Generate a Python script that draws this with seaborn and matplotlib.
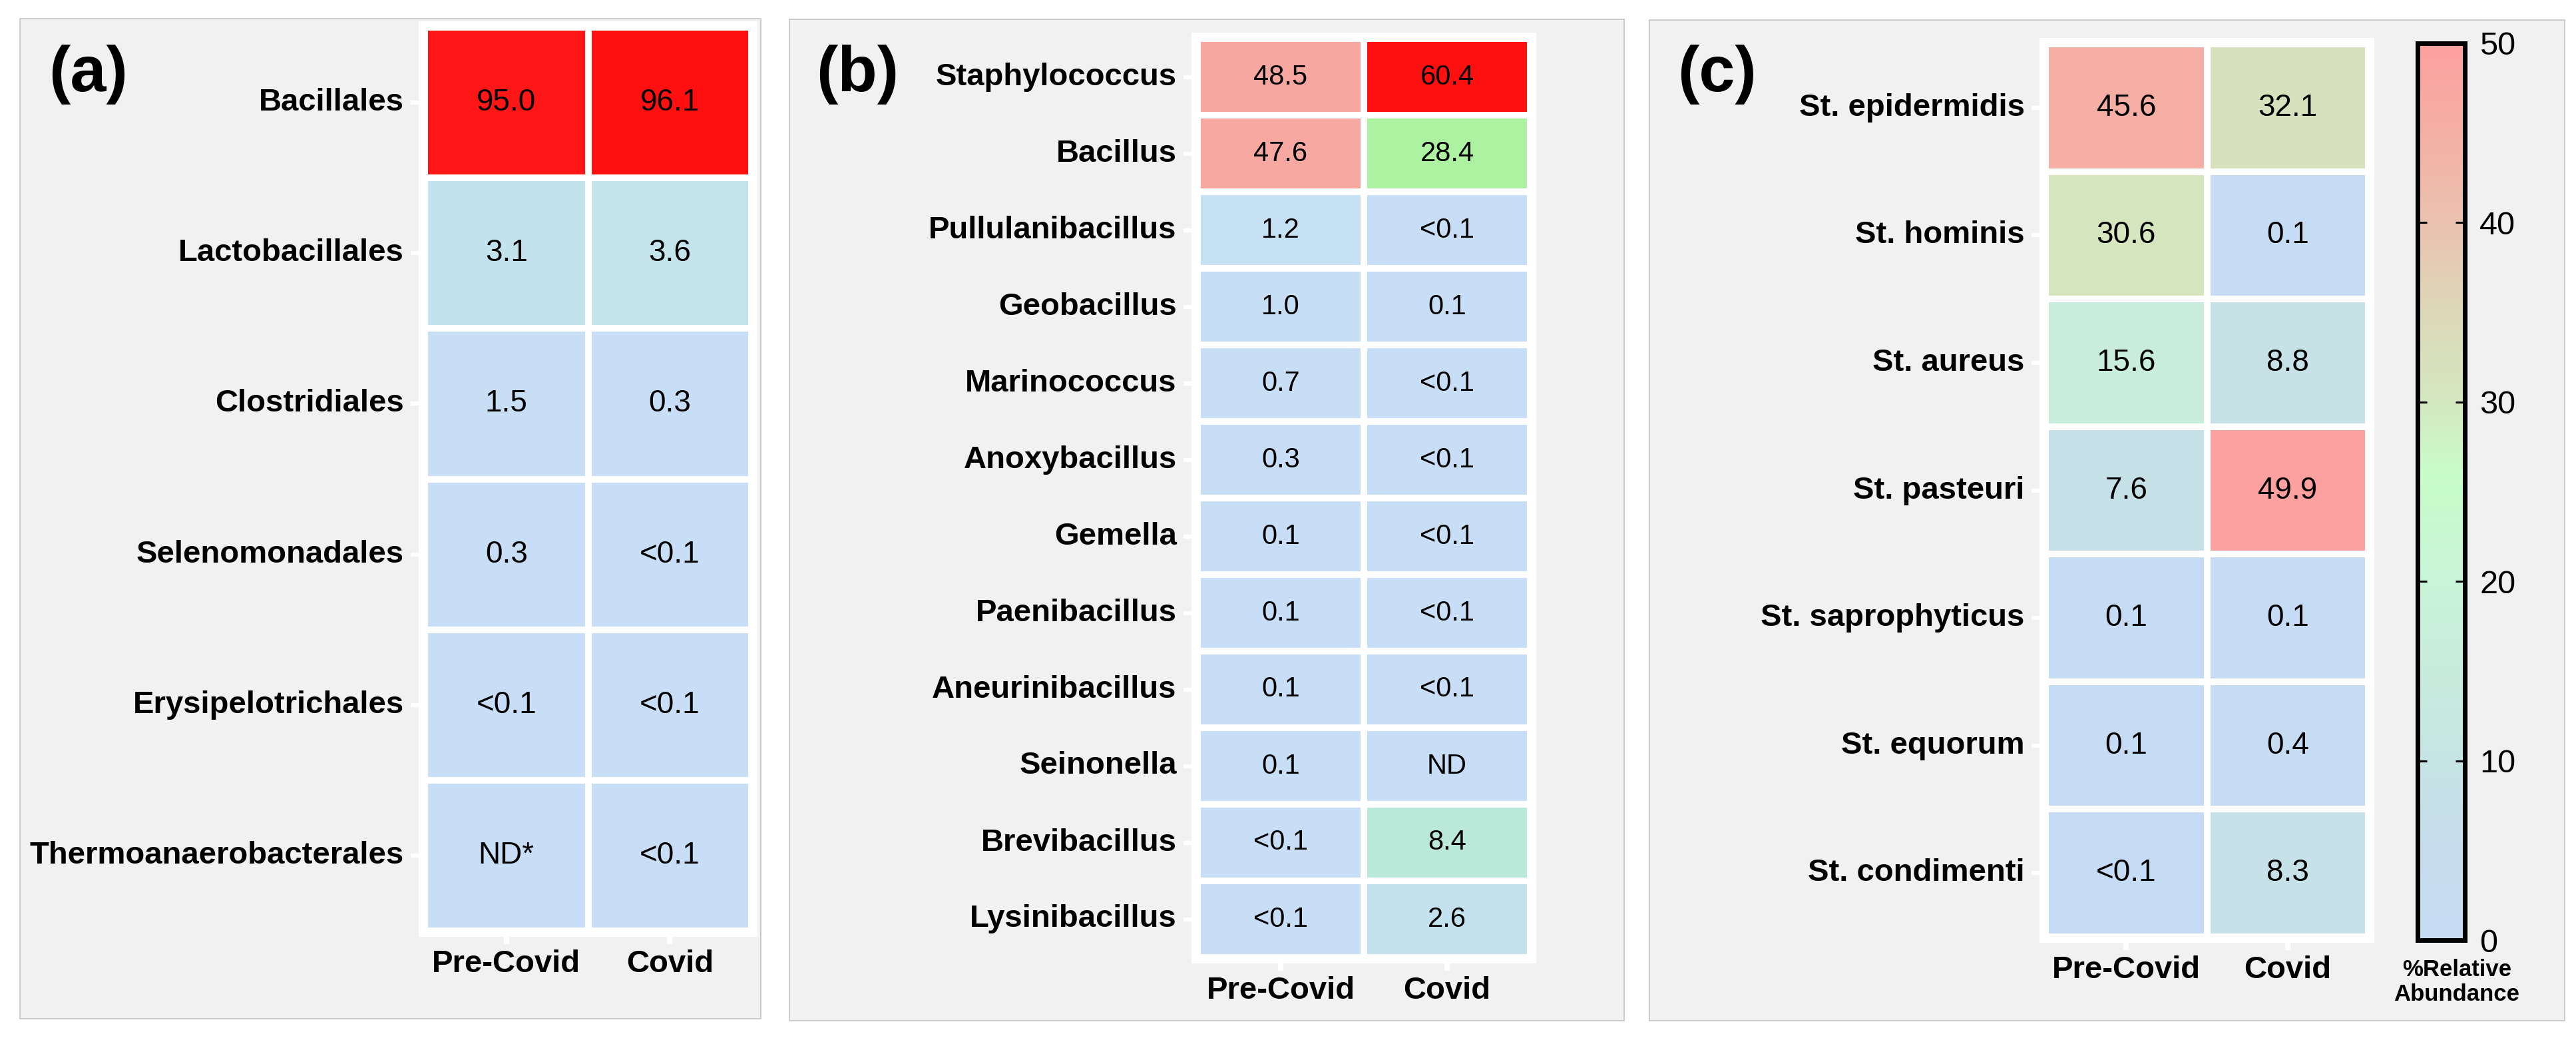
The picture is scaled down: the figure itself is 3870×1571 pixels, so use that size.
import numpy as np
import pandas as pd
import seaborn as sns
import matplotlib.pyplot as plt
from matplotlib.colors import LinearSegmentedColormap
from matplotlib.patches import Rectangle

# ---- data ----
periods = ["Pre-Covid", "Covid"]

a_orders = ["Bacillales", "Lactobacillales", "Clostridiales", "Selenomonadales",
            "Erysipelotrichales", "Thermoanaerobacterales"]
a_pre = [95.0, 3.1, 1.5, 0.3, 0.05, 0.0]
a_cov = [96.1, 3.6, 0.3, 0.05, 0.05, 0.05]
a_pre_txt = ["95.0", "3.1", "1.5", "0.3", "<0.1", "ND*"]
a_cov_txt = ["96.1", "3.6", "0.3", "<0.1", "<0.1", "<0.1"]

b_genera = ["Staphylococcus", "Bacillus", "Pullulanibacillus", "Geobacillus",
            "Marinococcus", "Anoxybacillus", "Gemella", "Paenibacillus",
            "Aneurinibacillus", "Seinonella", "Brevibacillus", "Lysinibacillus"]
b_pre = [48.5, 47.6, 1.2, 1.0, 0.7, 0.3, 0.1, 0.1, 0.1, 0.1, 0.05, 0.05]
b_cov = [60.4, 28.4, 0.05, 0.1, 0.05, 0.05, 0.05, 0.05, 0.05, 0.0, 8.4, 2.6]
b_pre_txt = ["48.5", "47.6", "1.2", "1.0", "0.7", "0.3", "0.1", "0.1", "0.1", "0.1", "<0.1", "<0.1"]
b_cov_txt = ["60.4", "28.4", "<0.1", "0.1", "<0.1", "<0.1", "<0.1", "<0.1", "<0.1", "ND", "8.4", "2.6"]

c_species = ["St. epidermidis", "St. hominis", "St. aureus", "St. pasteuri",
             "St. saprophyticus", "St. equorum", "St. condimenti"]
c_pre = [45.6, 30.6, 15.6, 7.6, 0.1, 0.1, 0.05]
c_cov = [32.1, 0.1, 8.8, 49.9, 0.1, 0.4, 8.3]
c_pre_txt = ["45.6", "30.6", "15.6", "7.6", "0.1", "0.1", "<0.1"]
c_cov_txt = ["32.1", "0.1", "8.8", "49.9", "0.1", "0.4", "8.3"]
cbar_ticks = [0, 10, 20, 30, 40, 50]

# ---- colour maps ----
cmap_a = LinearSegmentedColormap.from_list("a", [
    (0.0, "#c8ddf6"), (0.016, "#c6dff3"), (0.035, "#c2e4ea"),
    (0.3, "#c8f8c8"), (0.8, "#f8a4a0"), (1.0, "#ff1010")])
cmap_b = LinearSegmentedColormap.from_list("b", [
    (0.0, "#c8ddf6"), (0.02, "#c6e0f4"), (0.045, "#c3e2ee"), (0.14, "#bae9d9"),
    (0.47, "#adf2a0"), (0.78, "#f5a9a2"), (0.81, "#f8a5a0"), (1.0, "#ff1010")])
cmap_c = LinearSegmentedColormap.from_list("c", [
    (0.0, "#c6dcf4"), (0.1, "#c6dcec"), (0.2, "#c6e4e4"), (0.3, "#c8ecdc"),
    (0.4, "#c8f4d8"), (0.52, "#c8fcc8"), (0.6, "#d4e8c0"), (0.7, "#dcd8b8"),
    (0.8, "#ebc2b0"), (0.9, "#f4b0a4"), (1.0, "#fca0a0")])

plt.rcParams["font.family"] = ["Liberation Sans", "DejaVu Sans"]

W, H = 3870, 1571
fig = plt.figure(figsize=(W / 100, H / 100), dpi=100)
fig.patch.set_facecolor("white")


def box(x0, y0, x1, y1):
    return [x0 / W, 1 - y1 / H, (x1 - x0) / W, (y1 - y0) / H]


# grey panel backgrounds
for x0, y0, x1, y1 in [(30, 28, 1143, 1530), (1186, 29, 2440, 1533), (2478, 30, 3853, 1533)]:
    fig.add_artist(Rectangle((x0 / W, 1 - y1 / H), (x1 - x0) / W, (y1 - y0) / H,
                             transform=fig.transFigure, facecolor="#f1f1f1",
                             edgecolor="#c4c4c4", linewidth=1.2, zorder=-1))


def panel(cells, rows, pre, cov, pre_txt, cov_txt, cmap, vmax, fs, cbar_ax=None):
    x0, y0, x1, y1 = cells
    n = len(rows)
    pad = 9
    ax = fig.add_axes(box(x0 - pad, y0 - pad, x1 + pad, y1 + pad))
    df = pd.DataFrame({periods[0]: pre, periods[1]: cov}, index=rows)
    txt = np.array([pre_txt, cov_txt]).T
    sns.heatmap(df, annot=txt, fmt="", cmap=cmap, vmin=0, vmax=vmax,
                linewidths=5.8, linecolor="white",
                cbar=cbar_ax is not None, cbar_ax=cbar_ax,
                cbar_kws={"ticks": cbar_ticks} if cbar_ax is not None else None,
                annot_kws={"size": fs, "color": "black"}, ax=ax)
    ux = (x1 - x0) / 2
    uy = (y1 - y0) / n
    ax.set_xlim(-pad / ux, 2 + pad / ux)
    ax.set_ylim(n + pad / uy, -pad / uy)
    ax.set_facecolor("white")
    ax.set_xlabel("")
    ax.set_ylabel("")
    ax.set_yticklabels(rows, rotation=0, fontsize=34, fontweight="bold")
    ax.set_xticklabels(periods, rotation=0, fontsize=34, fontweight="bold")
    ax.tick_params(axis="x", colors="white", length=8, width=6, pad=6, labelcolor="black")
    ax.tick_params(axis="y", colors="white", length=9, width=4.5, pad=7, labelcolor="black")
    return ax


panel((638, 41, 1129, 1398), a_orders, a_pre, a_cov, a_pre_txt, a_cov_txt, cmap_a, 96.1, 33)
panel((1799, 58, 2299, 1438), b_genera, b_pre, b_cov, b_pre_txt, b_cov_txt, cmap_b, 60.4, 30)

cax = fig.add_axes(box(3632, 65, 3703, 1412))
ax_c = panel((3073, 66, 3558, 1407), c_species, c_pre, c_cov, c_pre_txt, c_cov_txt,
             cmap_c, 50, 33, cbar_ax=cax)
cb = ax_c.collections[0].colorbar
cb.outline.set_linewidth(5)
cb.outline.set_edgecolor("black")
cax.tick_params(direction="in", length=10, width=2.2, left=True, right=True,
                labelleft=False, labelright=True, labelsize=35, pad=16, color="black")

fig.text(3691 / W, 1 - 1440 / H, "%Relative\nAbundance", ha="center", va="top",
         fontsize=25, fontweight="bold", linespacing=1.15)

for x, lab in [(73, "(a)"), (1226, "(b)"), (2520, "(c)")]:
    fig.text(x / W, 1 - 112 / H, lab, ha="left", va="center", fontsize=70, fontweight="bold")

fig.savefig("out.png", dpi=100, facecolor="white")
